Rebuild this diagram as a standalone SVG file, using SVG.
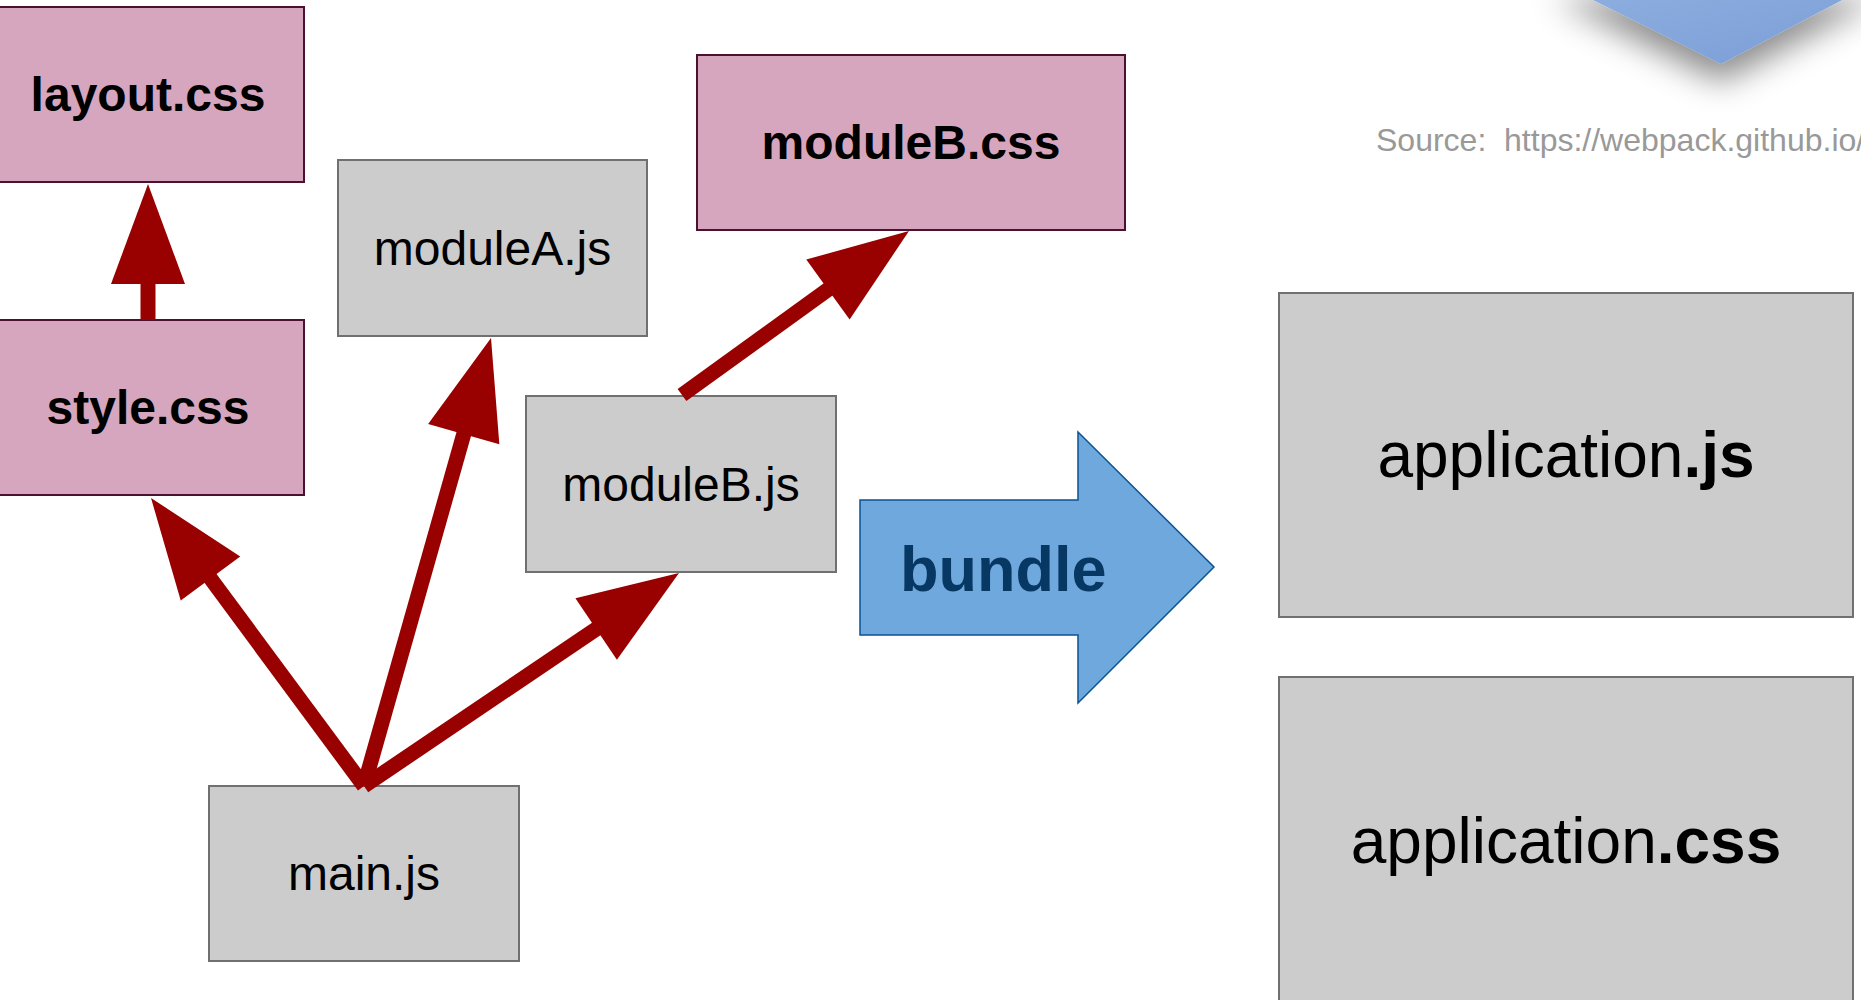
<svg xmlns="http://www.w3.org/2000/svg" width="1861" height="1000" viewBox="0 0 1861 1000">
<style>
.pink{fill:#d5a6bd;stroke:#4c1130;stroke-width:2}
.gray{fill:#cccccc;stroke:#707070;stroke-width:2}
.lbl{font-family:"Liberation Sans",Arial,sans-serif;font-size:48px;fill:#000;text-anchor:middle}
.b{font-weight:bold}
.big{font-family:"Liberation Sans",Arial,sans-serif;font-size:64px;fill:#000;text-anchor:middle}
.conn{stroke:#990000;stroke-width:15;fill:none;marker-end:url(#head)}
</style>
<defs>
<marker id="head" markerUnits="userSpaceOnUse" markerWidth="100" markerHeight="74" refX="5" refY="37" orient="auto" overflow="visible">
<path d="M0,0 L100,37 L0,74 Z" fill="#990000"/>
</marker>
<filter id="shadow" x="-50%" y="-50%" width="200%" height="250%">
<feDropShadow dx="0" dy="18" stdDeviation="16" flood-color="#000" flood-opacity="0.45"/>
</filter>
<linearGradient id="bg" x1="0" y1="0" x2="1" y2="1">
<stop offset="0" stop-color="#8fb0e0"/>
<stop offset="1" stop-color="#7a9dd6"/>
</linearGradient>
</defs>
<rect width="1861" height="1000" fill="#ffffff"/>

<g id="deco">
<polygon points="1553,-20 1721,64 1880,-20" fill="url(#bg)" filter="url(#shadow)"/>
</g>
<g id="source">
<text x="1376" y="151" font-family="Liberation Sans, Arial, sans-serif" font-size="32" fill="#999999" xml:space="preserve">Source:  https://webpack.github.io/</text>
</g>

<g id="layout-css"><rect class="pink" x="-8" y="7" width="312" height="175"/><text class="lbl b" x="148" y="111">layout.css</text></g>
<g id="style-css"><rect class="pink" x="-8" y="320" width="312" height="175"/><text class="lbl b" x="148" y="424">style.css</text></g>
<g id="moduleA-js"><rect class="gray" x="338" y="160" width="309" height="176"/><text class="lbl" x="492.5" y="265">moduleA.js</text></g>
<g id="moduleB-css"><rect class="pink" x="697" y="55" width="428" height="175"/><text class="lbl b" x="911" y="159">moduleB.css</text></g>
<g id="moduleB-js"><rect class="gray" x="526" y="396" width="310" height="176"/><text class="lbl" x="681" y="501">moduleB.js</text></g>
<g id="main-js"><rect class="gray" x="209" y="786" width="310" height="175"/><text class="lbl" x="364" y="890">main.js</text></g>

<g id="bundle">
<polygon points="860,500 1078,500 1078,432 1214,567 1078,703 1078,635 860,635" fill="#6fa8dc" stroke="#0b5394" stroke-width="1.5"/>
<text x="900" y="591" font-family="Liberation Sans, Arial, sans-serif" font-size="63" font-weight="bold" fill="#073763">bundle</text>
</g>

<g id="application-js"><rect class="gray" x="1279" y="293" width="574" height="324"/><text class="big" x="1566" y="477">application<tspan class="b">.js</tspan></text></g>
<g id="application-css"><rect class="gray" x="1279" y="677" width="574" height="330"/><text class="big" x="1566" y="863">application<tspan class="b">.css</tspan></text></g>

<g id="connectors">
<line class="conn" x1="148" y1="320" x2="148" y2="279"/>
<line class="conn" x1="364" y1="786" x2="207.5" y2="574.4"/>
<line class="conn" x1="364" y1="786" x2="465.1" y2="429.4"/>
<line class="conn" x1="364" y1="786" x2="600.3" y2="626.2"/>
<line class="conn" x1="682" y1="395" x2="832" y2="286.6"/>
</g>
</svg>
